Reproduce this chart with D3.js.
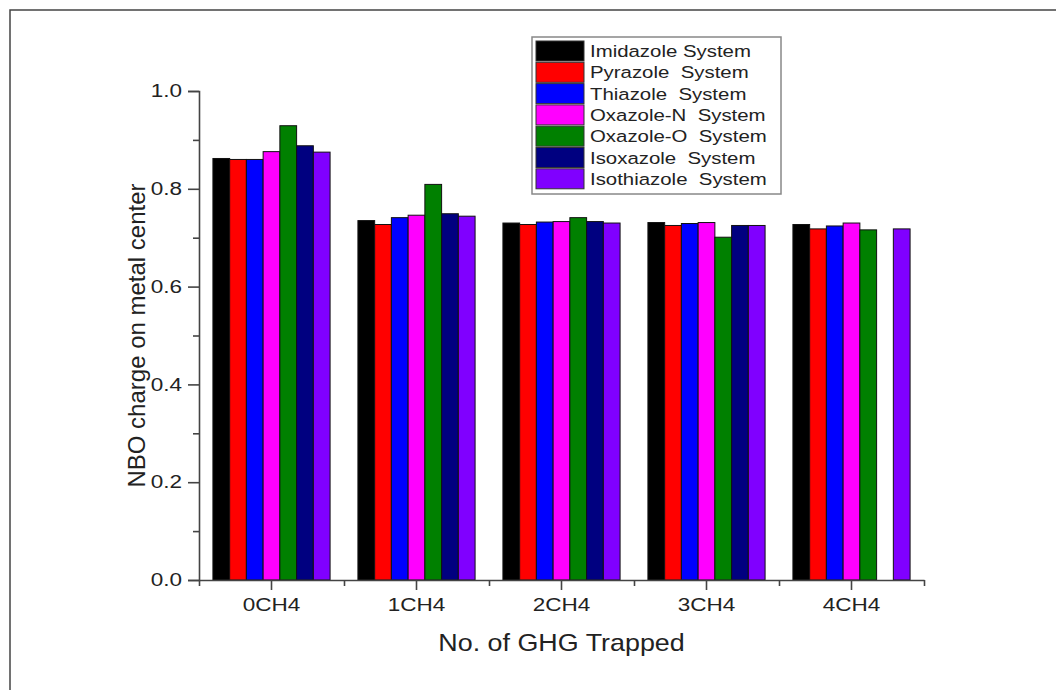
<!DOCTYPE html>
<html>
<head>
<meta charset="UTF-8">
<title>NBO charge on metal center</title>
<script src="https://cdn.jsdelivr.net/npm/d3@7"></script>
<style>
    body { margin: 0; background: #fff; }
    svg text { font-family: "Liberation Sans", Arial, sans-serif; fill: #222; }
</style>
</head>
<body>
<svg id="chart" width="1056" height="690"></svg>
<script>
    // values
    const categories = ["0CH4", "1CH4", "2CH4", "3CH4", "4CH4"];
    const seriesNames = ["Imidazole System", "Pyrazole  System", "Thiazole  System",
        "Oxazole-N  System", "Oxazole-O  System", "Isoxazole  System", "Isothiazole  System"];
    const seriesColors = ["#000000", "#ff0000", "#0000ff", "#ff00ff", "#008000", "#000080", "#8000ff"];
    const imidazole = [0.862, 0.735, 0.730, 0.731, 0.727];
    const pyrazole = [0.860, 0.727, 0.727, 0.725, 0.718];
    const thiazole = [0.860, 0.741, 0.732, 0.729, 0.724];
    const oxazoleN = [0.876, 0.746, 0.733, 0.731, 0.730];
    const oxazoleO = [0.929, 0.809, 0.741, 0.701, 0.716];
    const isoxazole = [0.888, 0.749, 0.733, 0.725, null];
    const isothiazole = [0.875, 0.744, 0.730, 0.725, 0.718];
    const yMajorTicks = [0, 0.2, 0.4, 0.6, 0.8, 1.0];
    const yMinorTicks = [0.1, 0.3, 0.5, 0.7, 0.9];

    const seriesValues = [imidazole, pyrazole, thiazole, oxazoleN, oxazoleO, isoxazole, isothiazole];

    const svg = d3.select('#chart');
    const plotLeft = 199, plotRight = 924, plotTop = 91, plotBottom = 580;
    // the original picture's lettering is a bit wide, stretch text horizontally
    const stretch = 1.25;

    // outer frame (only left and top edges visible)
    svg.append('path')
        .attr('d', 'M10,690 L10,10 L1056,10')
        .attr('fill', 'none')
        .attr('stroke', '#444')
        .attr('stroke-width', 1.5);

    const x0 = d3.scaleBand().domain(categories).range([plotLeft, plotRight]).padding(0);
    const x1 = d3.scaleBand().domain(d3.range(seriesNames.length))
        .range([x0.bandwidth() * 0.096, x0.bandwidth() * 0.904]);
    const y = d3.scaleLinear().domain([0, 1]).range([plotBottom, plotTop]);

    // bars
    const groups = svg.append('g').selectAll('g')
        .data(categories)
        .join('g')
        .attr('transform', d => 'translate(' + x0(d) + ',0)');

    groups.selectAll('rect')
        .data((c, ci) => seriesValues.map((vals, si) => ({si: si, v: vals[ci]})).filter(d => d.v != null))
        .join('rect')
        .attr('x', d => x1(d.si))
        .attr('y', d => y(d.v))
        .attr('width', x1.bandwidth())
        .attr('height', d => y(0) - y(d.v))
        .attr('fill', d => seriesColors[d.si])
        .attr('stroke', '#111')
        .attr('stroke-width', 1);

    // y axis
    const yAxisG = svg.append('g')
        .attr('transform', 'translate(' + plotLeft + ',0)')
        .call(d3.axisLeft(y).tickValues(yMajorTicks).tickSize(11).tickFormat(d3.format('.1f')));
    yAxisG.selectAll('.tick text')
        .attr('x', -17 / stretch)
        .attr('transform', 'scale(' + stretch + ',1)');
    svg.append('g')
        .attr('transform', 'translate(' + plotLeft + ',0)')
        .call(d3.axisLeft(y).tickValues(yMinorTicks).tickSize(6).tickFormat(''))
        .select('.domain').remove();

    // x axis
    const xAxisG = svg.append('g')
        .attr('transform', 'translate(0,' + plotBottom + ')')
        .call(d3.axisBottom(x0).tickSize(10).tickPadding(8).tickSizeOuter(0));
    xAxisG.selectAll('.tick text')
        .attr('transform', 'scale(' + stretch + ',1)');
    const xMinor = d3.scaleLinear().domain([0, categories.length]).range([plotLeft, plotRight]);
    svg.append('g')
        .attr('transform', 'translate(0,' + plotBottom + ')')
        .call(d3.axisBottom(xMinor).tickValues(d3.range(categories.length + 1)).tickSize(6).tickFormat(''))
        .select('.domain').remove();

    svg.selectAll('.domain, .tick line')
        .attr('stroke', '#444')
        .attr('stroke-width', 1.6);
    svg.selectAll('.tick text')
        .style('font-size', '18px')
        .attr('fill', '#222');

    // axis titles
    svg.append('text')
        .attr('transform', 'translate(' + ((plotLeft + plotRight) / 2) + ',651) scale(1.12,1)')
        .attr('text-anchor', 'middle')
        .style('font-size', '24px')
        .text('No. of GHG Trapped');

    svg.append('text')
        .attr('transform', 'translate(145,' + ((plotTop + plotBottom) / 2) + ') rotate(-90)')
        .attr('text-anchor', 'middle')
        .style('font-size', '24px')
        .text('NBO charge on metal center');

    // legend
    const legend = svg.append('g');
    legend.append('rect')
        .attr('x', 532).attr('y', 37)
        .attr('width', 249).attr('height', 157)
        .attr('fill', '#fff')
        .attr('stroke', '#888')
        .attr('stroke-width', 1.5);

    const rows = legend.selectAll('g.row')
        .data(seriesNames)
        .join('g')
        .attr('class', 'row')
        .attr('transform', (d, i) => 'translate(0,' + (41 + i * 21.3) + ')');
    rows.append('rect')
        .attr('x', 536).attr('y', 0)
        .attr('width', 48).attr('height', 20)
        .attr('fill', (d, i) => seriesColors[i])
        .attr('stroke', '#333')
        .attr('stroke-width', 1);
    rows.append('text')
        .attr('transform', 'translate(590,16) scale(1.2,1)')
        .style('font-size', '17px')
        .style('white-space', 'pre')
        .text(d => d);
</script>
</body>
</html>
